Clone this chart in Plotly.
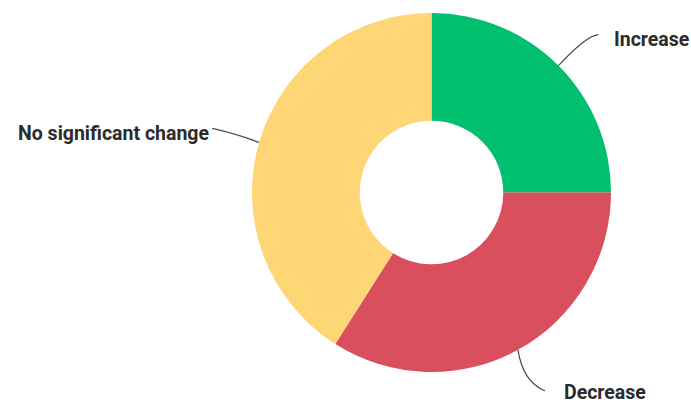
import math
import plotly.graph_objects as go

# ---- data ----
categories = ["Increase", "Decrease", "No significant change"]
values = [25, 34, 41]
colors = ["#00BF6F", "#DA4F5E", "#FED676"]

# ---- layout constants (pixels) ----
W, H = 691, 403
M_L, M_R, M_T, M_B = 0, 0, 13, 31
PLOT_H = H - M_T - M_B
CX = 431.5
CY = M_T + PLOT_H / 2
R = PLOT_H / 2
HOLE = 0.40

# leader line / label styling per slice: (end offset, control offset, label offset from end, anchor)
label_style = {
    "Increase": dict(end=(40, -31), ctrl=(28, -30), lab=(14, 5), anchor="left"),
    "Decrease": dict(end=(27, 41), ctrl=(5, 32), lab=(17, 1.5), anchor="left"),
    "No significant change": dict(end=(-47, -14), ctrl=(-24, -9), lab=(-1, 5), anchor="right"),
}


def to_paper(x, y):
    return x / (W - M_L - M_R), (H - M_B - y) / PLOT_H


fig = go.Figure()
dom_half = 0.3
cxp = CX / W
fig.add_trace(go.Pie(
    labels=categories,
    values=values,
    hole=HOLE,
    sort=False,
    direction="clockwise",
    rotation=0,
    marker=dict(colors=colors, line=dict(width=0)),
    textinfo="none",
    hoverinfo="label+percent",
    showlegend=False,
    domain=dict(x=[cxp - dom_half, cxp + dom_half], y=[0, 1]),
))

shapes = []
annotations = []
total = sum(values)
cum = 0
for cat, v in zip(categories, values):
    mid = (cum + v / 2) / total * 2 * math.pi
    cum += v
    ex = CX + R * math.sin(mid)
    ey = CY - R * math.cos(mid)
    st = label_style[cat]
    x1, y1 = ex + st["end"][0], ey + st["end"][1]
    qx, qy = ex + st["ctrl"][0], ey + st["ctrl"][1]
    p0 = to_paper(ex, ey)
    pq = to_paper(qx, qy)
    p1 = to_paper(x1, y1)
    shapes.append(dict(
        type="path", xref="paper", yref="paper",
        path=f"M {p0[0]:.5f} {p0[1]:.5f} Q {pq[0]:.5f} {pq[1]:.5f} {p1[0]:.5f} {p1[1]:.5f}",
        line=dict(color="#4a4a4a", width=1.2),
    ))
    lx, ly = x1 + st["lab"][0], y1 + st["lab"][1]
    pl = to_paper(lx, ly)
    annotations.append(dict(
        x=pl[0], y=pl[1], xref="paper", yref="paper",
        text=f"<b>{cat}</b>", showarrow=False,
        xanchor=st["anchor"], yanchor="middle",
        font=dict(family="Roboto", size=19.5, color="#2b2b2b"),
    ))

fig.update_layout(
    width=W, height=H,
    margin=dict(l=M_L, r=M_R, t=M_T, b=M_B),
    paper_bgcolor="white",
    plot_bgcolor="white",
    shapes=shapes,
    annotations=annotations,
)

fig.write_html(
    "out.html",
    config={"displayModeBar": False},
    post_script="document.body.style.margin='0';document.body.style.overflow='hidden';",
)
